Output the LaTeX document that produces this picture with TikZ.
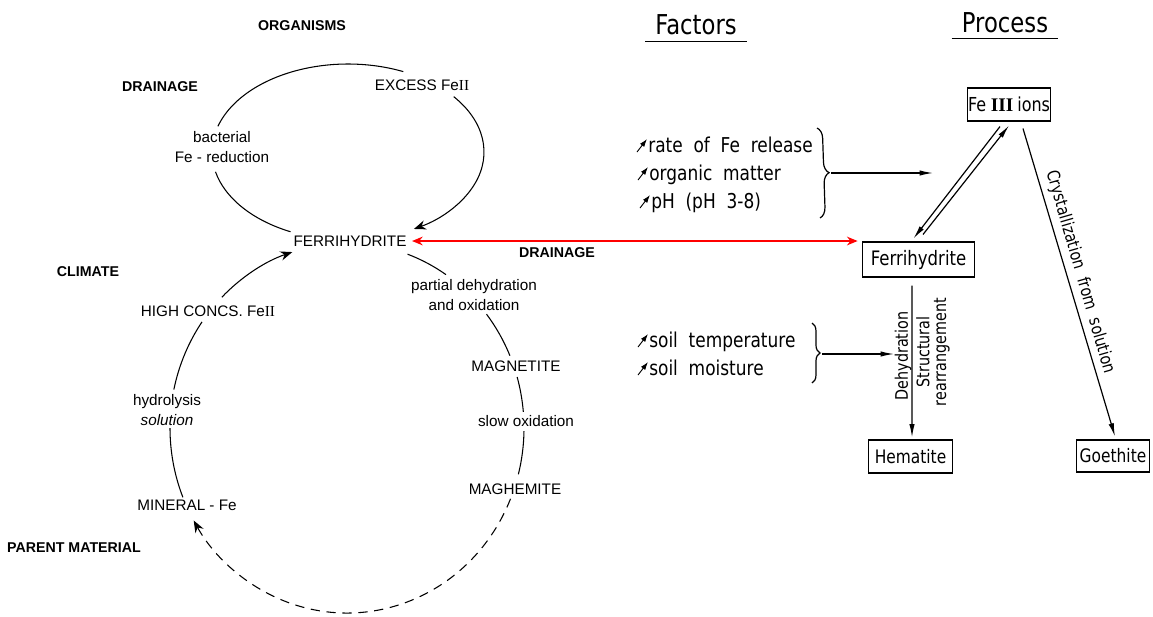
\documentclass[tikz,border=0pt]{standalone}
\usepackage{fontspec}
\setmainfont{Liberation Sans}
\newfontfamily\din[FakeStretch=0.83,WordSpace=2]{DejaVu Sans}
\newfontfamily\romn{Liberation Serif}
\usetikzlibrary{arrows.meta,calc,decorations.pathreplacing}
\tikzset{
 lab/.style={font=\fontsize{11.5}{15.75}\selectfont, inner sep=0pt, align=center},
 blab/.style={font=\fontsize{10.7}{12}\selectfont\bfseries, inner sep=0pt},
 fac/.style={font=\din\fontsize{15.4}{18}\selectfont, inner sep=0pt, anchor=base west},
 ttl/.style={font=\din\fontsize{20.6}{24}\selectfont, inner xsep=7.5pt, inner ysep=0pt},
 pbox/.style={draw, line width=0.9pt, inner sep=0pt},
 circ/.style={line width=0.8pt},
 ctip/.style={-{Stealth[length=9pt,width=7pt]}},
 rline/.style={line width=0.9pt},
 rtip/.style={-{Latex[length=10pt,width=4pt]}},
 incmark/.style={line width=0.7pt, -{Latex[length=6pt,width=4pt]}},
 rot/.style={font=\din\fontsize{13}{12.75}\selectfont, inner sep=0pt, align=center},
 redarrow/.style={red, line width=1.5pt, {Stealth[length=8pt,width=6.5pt]}-{Stealth[length=8pt,width=6.5pt]}}
}
\begin{document}
\begin{tikzpicture}[x=0.02646cm,y=0.02646cm]
\useasboundingbox (0,0) rectangle (1153,-616);

% ---------- left cycle labels ----------
\node[blab] (org) at (302,-26) {ORGANISMS};
\node[blab] (dr1) at (160,-87) {DRAINAGE};
\node[lab] (exc) at (422,-85) {EXCESS Fe{\romn II}};
\node[lab] (bac) at (222,-147) {bacterial\\Fe - reduction};
\node[lab] (fer) at (350,-241) {FERRIHYDRITE};
\node[blab] (dr2) at (557,-253) {DRAINAGE};
\node[blab] (cli) at (88,-272) {CLIMATE};
\node[lab] (hc) at (208,-311) {HIGH CONCS. Fe{\romn II}};
\node[lab] (pd) at (474,-295) {partial dehydration\\and oxidation};
\node[lab] (mgt) at (516,-366) {MAGNETITE};
\node[lab] (hyd) at (167,-410) {hydrolysis\\\textit{solution}};
\node[lab] (slo) at (526,-421) {slow oxidation};
\node[lab] (mgh) at (515,-489) {MAGHEMITE};
\node[lab] (min) at (187,-505) {MINERAL - Fe};
\node[blab] (par) at (74,-548) {PARENT MATERIAL};

% ---------- small upper loop ----------
\coordinate (S) at (348,-152);
\coordinate (s1) at ($(S)+(163:136 and 88)$);
\coordinate (s2) at ($(S)+(39:136 and 88)$);
\coordinate (s3) at ($(S)+(193:136 and 88)$);
\draw[circ] (s1) arc[start angle=163,end angle=66,x radius=136,y radius=88];
\draw[circ,ctip] (s2) arc[start angle=39,end angle=-61,x radius=136,y radius=88];
\draw[circ] (s3) arc[start angle=193,end angle=245,x radius=136,y radius=88];

% ---------- big lower cycle ----------
\coordinate (B) at (347,-428);
\coordinate (c1) at ($(B)+(-22.5:177 and 185)$);
\coordinate (c2) at ($(B)+(-158:177 and 185)$);
\coordinate (c3) at ($(B)+(168:177 and 185)$);
\coordinate (c4) at ($(B)+(135:177 and 185)$);
\coordinate (c5) at ($(B)+(70:177 and 185)$);
\coordinate (c6) at ($(B)+(38:177 and 185)$);
\coordinate (c7) at ($(B)+(16:177 and 185)$);
\coordinate (c8) at ($(B)+(-1:177 and 185)$);
\draw[circ,ctip,dash pattern=on 7pt off 5pt] (c1) arc[start angle=-22.5,end angle=-150,x radius=177,y radius=185];
\draw[circ] (c2) arc[start angle=-158,end angle=-180,x radius=177,y radius=185];
\draw[circ] (c3) arc[start angle=168,end angle=145,x radius=177,y radius=185];
\draw[circ,ctip] (c4) arc[start angle=135,end angle=108,x radius=177,y radius=185];
\draw[circ] (c5) arc[start angle=70,end angle=56,x radius=177,y radius=185];
\draw[circ] (c6) arc[start angle=38,end angle=23,x radius=177,y radius=185];
\draw[circ] (c7) arc[start angle=16,end angle=5,x radius=177,y radius=185];
\draw[circ] (c8) arc[start angle=-1,end angle=-14.5,x radius=177,y radius=185];

% ---------- right: titles ----------
\node[ttl] (ft) at (696,-25) {Factors};
\draw[line width=0.9pt] ($(ft.base west)+(0,-7)$) -- ($(ft.base east)+(0,-7)$);
\node[ttl] (pt) at (1005,-23) {Process};
\draw[line width=0.9pt] ($(pt.base west)+(0,-6)$) -- ($(pt.base east)+(0,-6)$);

% ---------- process boxes ----------
\node[pbox, minimum width=63pt, minimum height=24.75pt, font=\din\fontsize{14.5}{18}\selectfont] (fe3) at (1009,-104.5) {Fe\hspace{3.5pt}{\romn\bfseries III}\hspace{3pt}ions};
\node[pbox, minimum width=84.75pt, minimum height=26.25pt, font=\din\fontsize{15}{18}\selectfont] (ferri) at (918.5,-259.5) {Ferrihydrite};
\node[pbox, minimum width=63.75pt, minimum height=24.75pt, font=\din\fontsize{14}{18}\selectfont] (hem) at (910.5,-456.5) {Hematite};
\node[pbox, minimum width=55.5pt, minimum height=24pt, font=\din\fontsize{14}{18}\selectfont] (goe) at (1113,-456) {Goethite};

% ---------- factors ----------
\node[fac] (f1) at (648,-152) {rate of Fe release};
\node[fac] (f2) at (649,-180) {organic matter};
\node[fac] (f3) at (651,-208) {pH (pH 3-8)};
\node[fac] (f4) at (649,-347) {soil temperature};
\node[fac] (f5) at (649,-375) {soil moisture};
\foreach \f in {f1,f2,f3,f4,f5}
  \draw[incmark] ($(\f.base west)+(-11,0)$) -- ($(\f.base west)+(-1,13)$);

\draw[rline, decorate, decoration={brace,amplitude=8pt}] (817,-128) -- (820,-218);
\coordinate (b1) at (831,-173);
\coordinate (b1e) at (933,-173);
\draw[rline,rtip] (b1) -- (b1e);
\draw[rline, decorate, decoration={brace,amplitude=6pt}] (812,-323) -- (812,-383);
\coordinate (b2) at (822,-354);
\coordinate (b2e) at (894,-354);
\draw[rline,rtip] (b2) -- (b2e);

% ---------- process arrows ----------
\draw[rline,rtip] ($(fe3.south)+(-9,-5)$) -- ($(ferri.north)+(-5,3)$);
\draw[rline,rtip] ($(ferri.north)+(4.5,7)$) -- ($(fe3.south)+(0,-4)$);
\draw[rline,rtip] ($(fe3.south)+(14,-7)$) -- ($(goe.north)+(2,3)$);
\draw[rline,rtip] ($(ferri.south)+(-6.5,-8)$) -- ($(hem.north)+(1.5,2)$);

\node[rot, rotate=90] (deh) at (903,-356) {Dehydration};
\node[rot, rotate=90] (str) at (933,-352) {Structural\\rearrangement};
\node[rot, rotate=-73.9] (cry) at (1080,-272) {Crystallization from solution};

% ---------- red drainage link ----------
\draw[redarrow] ([xshift=4pt]fer.east) -- ([xshift=-3pt]fer.east -| ferri.west);
\end{tikzpicture}
\end{document}
